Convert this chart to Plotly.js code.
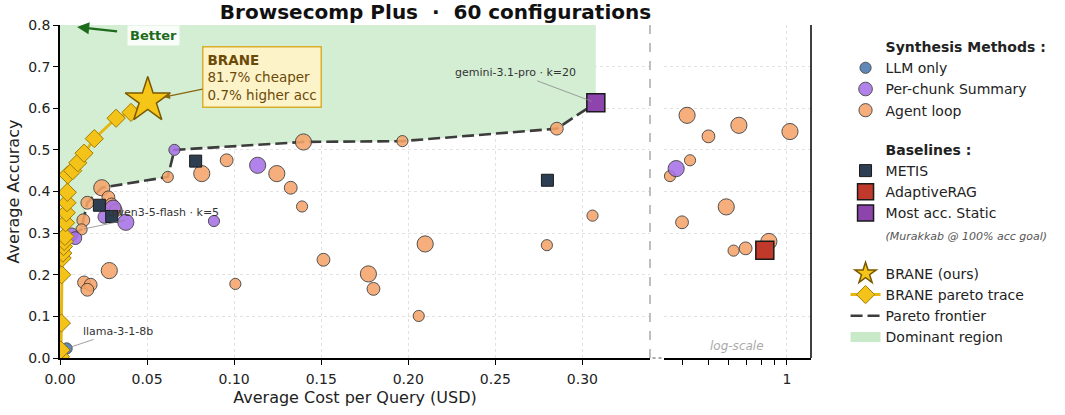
<!DOCTYPE html>
<html><head><meta charset="utf-8">
<script src="https://cdn.plot.ly/plotly-3.0.1.min.js"></script>
<style>html,body{margin:0;padding:0;background:#fff}#chart{width:1065px;height:415px}</style>
</head><body><div id="chart"></div>
<script>
// ---------------- data ----------------
const llmCost = [0.0038];
const llmAcc  = [0.023];
const llmK    = [5];

const chunkCost = [0.0067, 0.0088, 0.0255, 0.0305, 0.0378, 0.0657, 0.0884, 0.1135, 0.377];
const chunkAcc  = [0.297, 0.288, 0.339, 0.360, 0.326, 0.500, 0.329, 0.463, 0.455];
const chunkK    = [10, 10, 10, 20, 20, 5, 5, 20, 20];

const agentCost = [0.0619, 0.0814, 0.0957, 0.1245, 0.1325, 0.1390, 0.1398, 0.1966, 0.2853, 0.3058,
                   0.2796, 0.2097, 0.1771, 0.1800, 0.2060, 0.1513, 0.1007, 0.0283, 0.0138, 0.0176,
                   0.0157, 0.0134, 0.0124, 0.0157, 0.0240, 0.0278, 0.0297, 0.0320,
                   0.415, 0.655, 1.027, 0.501, 0.426, 0.357, 0.586, 0.397, 0.625, 0.695, 0.853];
const agentAcc  = [0.435, 0.443, 0.475, 0.443, 0.409, 0.364, 0.519, 0.521, 0.551, 0.342,
                   0.271, 0.274, 0.202, 0.166, 0.101, 0.236, 0.178, 0.210, 0.1815, 0.176,
                   0.164, 0.331, 0.309, 0.373, 0.409, 0.386, 0.369, 0.355,
                   0.583, 0.559, 0.544, 0.5325, 0.475, 0.437, 0.363, 0.326, 0.258, 0.2634, 0.280];
const agentK    = [5, 20, 10, 20, 10, 5, 20, 5, 10, 5,
                   5, 20, 20, 10, 5, 10, 5, 20, 10, 10,
                   10, 10, 5, 10, 20, 10, 10, 10,
                   20, 20, 20, 10, 5, 5, 20, 10, 5, 10, 20];

const metisCost = [0.0226, 0.0297, 0.0779, 0.2799];
const metisAcc  = [0.367, 0.340, 0.473, 0.427];
const adaptiveCost = [0.823];
const adaptiveAcc  = [0.2586];
const staticCost = [0.3077];
const staticAcc  = [0.613];

const braneTraceCost = [0.0003, 0.0005, 0.0008, 0.0010, 0.0012, 0.0016, 0.0020, 0.0024, 0.0028, 0.0032,
                        0.0036, 0.0040, 0.0042, 0.0045, 0.0073, 0.0102, 0.0138, 0.0197, 0.0322, 0.0408, 0.0504];
const braneTraceAcc  = [0.003, 0.019, 0.084, 0.200, 0.240, 0.252, 0.268, 0.280, 0.292, 0.325,
                        0.349, 0.373, 0.398, 0.440, 0.450, 0.469, 0.492, 0.527, 0.576, 0.590, 0.619];
const braneCost = [0.0504];
const braneAcc  = [0.619];

const frontierCost = [0.0067, 0.0124, 0.0134, 0.0157, 0.0240, 0.0619, 0.0657, 0.1398, 0.1966, 0.2853, 0.3077];
const frontierAcc  = [0.297, 0.309, 0.331, 0.373, 0.409, 0.435, 0.500, 0.519, 0.521, 0.551, 0.613];

const xTickVals = [0, 0.05, 0.10, 0.15, 0.20, 0.25, 0.30];
const yTickVals = [0, 0.1, 0.2, 0.3, 0.4, 0.5, 0.6, 0.7, 0.8];
const logMinorTicks = [0.4, 0.5, 0.6, 0.7, 0.8, 0.9];
const logMajorTicks = [1];
const logMajorText = ['1'];

// ---------------- settings ----------------
const LIN_MAX = 0.3388, LOG_MAX = 1.236, Y_TOP = 0.8;
const FONT = 'DejaVu Sans, Verdana, sans-serif';
const C_LLM = '#4a78b0', C_CHUNK = '#a771e6', C_AGENT = '#f5a56a';
const C_METIS = '#2e3e52', C_ADAPT = '#c0392b', C_STATIC = '#8e44ad';
const C_DOM = '#d4eed4';
const EDGE = '#3a3a3a';
const sizeOf = k => 9.5 + k / 3;

function split(cost, acc, k) {
  const lin = {x: [], y: [], s: []}, log = {x: [], y: [], s: []};
  cost.forEach((c, i) => {
    const t = c <= LIN_MAX ? lin : log;
    t.x.push(c); t.y.push(acc[i]); t.s.push(sizeOf(k[i]));
  });
  return [lin, log];
}

const traces = [];
// legend-only helpers (no data drawn)
function header(name, group, rank) {
  return {x: [null], y: [null], type: 'scatter', mode: 'markers', name: name,
    legendgroup: group, legendrank: rank, hoverinfo: 'skip',
    marker: {color: 'rgba(0,0,0,0)', size: 1, line: {width: 0}}};
}
traces.push(header('<b>Synthesis Methods :</b>', 'syn', 1));
traces.push(header('<b>Baselines :</b>', 'base', 5));

// dominant region
const domX = [0].concat(frontierCost, [frontierCost[frontierCost.length - 1], 0]);
const domY = [frontierAcc[0]].concat(frontierAcc, [Y_TOP, Y_TOP]);
traces.push({x: domX, y: domY, type: 'scatter', mode: 'none', fill: 'toself',
  fillcolor: C_DOM, name: 'Dominant region', showlegend: false, hoverinfo: 'skip'});
traces.push({x: [null], y: [null], type: 'scatter', mode: 'lines', name: 'Dominant region',
  legendgroup: 'brane', legendrank: 13, line: {color: '#c8eac8', width: 10}, hoverinfo: 'skip'});

// pareto frontier
traces.push({x: frontierCost, y: frontierAcc, type: 'scatter', mode: 'lines', name: 'Pareto frontier',
  line: {color: '#3c3c3c', width: 2.6, dash: '12px,5px'}, legendgroup: 'brane', legendrank: 12});

function circles(cost, acc, k, color, name, group, rank) {
  const [lin, log] = split(cost, acc, k);
  const base = {type: 'scatter', mode: 'markers', name: name, legendgroup: group, legendrank: rank};
  traces.push(Object.assign({}, base, {x: lin.x, y: lin.y, xaxis: 'x', yaxis: 'y',
    marker: {color: color, opacity: 0.88, size: lin.s, line: {color: EDGE, width: 1}}}));
  if (log.x.length) traces.push(Object.assign({}, base, {x: log.x, y: log.y, xaxis: 'x2', yaxis: 'y', showlegend: false,
    marker: {color: color, opacity: 0.88, size: log.s, line: {color: EDGE, width: 1}}}));
}
circles(llmCost, llmAcc, llmK, C_LLM, 'LLM only', 'syn', 2);
circles(agentCost, agentAcc, agentK, C_AGENT, 'Agent loop', 'syn', 4);
circles(chunkCost, chunkAcc, chunkK, C_CHUNK, 'Per-chunk Summary', 'syn', 3);

// baselines
traces.push({x: metisCost, y: metisAcc, type: 'scatter', mode: 'markers', name: 'METIS', legendgroup: 'base', legendrank: 6,
  marker: {symbol: 'square', color: C_METIS, size: 12, line: {color: '#1a1a1a', width: 1}}});
traces.push({x: adaptiveCost, y: adaptiveAcc, xaxis: 'x2', type: 'scatter', mode: 'markers', name: 'AdaptiveRAG', legendgroup: 'base', legendrank: 7,
  marker: {symbol: 'square', color: C_ADAPT, size: 18, line: {color: '#1a1a1a', width: 1.5}}});
traces.push({x: staticCost, y: staticAcc, type: 'scatter', mode: 'markers', name: 'Most acc. Static', legendgroup: 'base', legendrank: 8,
  marker: {symbol: 'square', color: C_STATIC, size: 18, line: {color: '#1a1a1a', width: 1.5}}});
traces.push(header('<span style="font-size:11px;color:#555"><i>(Murakkab @ 100% acc goal)</i></span>', 'base', 9));

// BRANE
traces.push({x: braneTraceCost, y: braneTraceAcc, type: 'scatter', mode: 'lines+markers', name: 'BRANE pareto trace',
  legendgroup: 'brane', legendrank: 11,
  line: {color: '#e5b710', width: 3},
  marker: {symbol: 'diamond', size: 14, color: '#f3c31a', line: {color: '#a27a00', width: 1}}});
traces.push({x: braneCost, y: braneAcc, type: 'scatter', mode: 'markers', name: 'BRANE (ours)',
  legendgroup: 'brane', legendrank: 10,
  marker: {symbol: 'star', size: 34, color: '#f5c518', line: {color: '#7a5800', width: 1.5}}});

const axFont = {family: FONT, size: 14, color: '#222'};
const GRID = '#e2e2e2';
const layout = {
  width: 1065, height: 415,
  margin: {l: 60, r: 254, t: 25, b: 57},
  paper_bgcolor: '#fff', plot_bgcolor: '#fff',
  font: {family: FONT, color: '#222'},
  showlegend: true,
  title: {text: '<b>Browsecomp Plus\u00a0\u00a0·\u00a0\u00a060 configurations</b>', font: {family: FONT, size: 20, color: '#111'},
    xref: 'paper', x: 0.5, xanchor: 'center', yref: 'container', y: 0.970, yanchor: 'middle'},
  xaxis: {domain: [0, 0.7856], range: [0, LIN_MAX], tickvals: xTickVals, tickformat: '.2f',
    ticks: 'outside', ticklen: 5, tickwidth: 1.2, tickcolor: '#000', showline: true, linecolor: '#000', linewidth: 1.5,
    ticklabelstandoff: 2,
    showgrid: true, gridcolor: GRID, griddash: 'dot', gridwidth: 1, zeroline: false, tickfont: axFont,
    title: {text: 'Average Cost per Query (USD)', font: {family: FONT, size: 16, color: '#222'}, standoff: 6}},
  xaxis2: {domain: [0.8043, 1], type: 'log', range: [Math.log10(LIN_MAX), Math.log10(LOG_MAX)], anchor: 'y',
    tickvals: logMajorTicks, ticktext: logMajorText, ticks: 'outside', ticklen: 5, tickwidth: 1.2, tickcolor: '#000',
    ticklabelstandoff: 2,
    minor: {tickvals: logMinorTicks, ticks: 'outside', ticklen: 5, tickwidth: 1.2, tickcolor: '#000', showgrid: false},
    showline: true, linecolor: '#000', linewidth: 1.5, showgrid: true, gridcolor: GRID, griddash: 'dot', gridwidth: 1,
    zeroline: false, tickfont: axFont},
  yaxis: {range: [0, Y_TOP], tickvals: yTickVals, tickformat: '.1f', ticks: 'outside', ticklen: 5, tickwidth: 1.2, tickcolor: '#000',
    showline: true, linecolor: '#000', linewidth: 1.5, showgrid: true, gridcolor: GRID, griddash: 'dot', gridwidth: 1,
    zeroline: false, tickfont: axFont,
    title: {text: 'Average Accuracy', font: {family: FONT, size: 16, color: '#222'}, standoff: 5}},
  legend: {x: 1.046, xanchor: 'left', y: 0.982, yanchor: 'top', font: {family: FONT, size: 14, color: '#222'},
    traceorder: 'grouped', tracegroupgap: 18, bgcolor: 'rgba(0,0,0,0)', itemclick: false, itemdoubleclick: false},
  shapes: [
    {type: 'line', xref: 'x domain', x0: 1, x1: 1, yref: 'y domain', y0: 0, y1: 1, line: {color: '#aaaaaa', width: 1.5, dash: 'dash'}},
    {type: 'line', xref: 'x2 domain', x0: 1, x1: 1, yref: 'y domain', y0: 0, y1: 1, line: {color: '#000', width: 1.5}},
    {type: 'line', xref: 'paper', x0: 0.789, x1: 0.803, yref: 'paper', y0: 0, y1: 0, line: {color: '#aaaaaa', width: 2, dash: 'dot'}}
  ],
  annotations: [
    {x: braneCost[0], y: braneAcc[0], xref: 'x', yref: 'y', ax: 114, ay: -23.5,
      text: '<b>BRANE</b><br>81.7% cheaper<br>0.7% higher acc', align: 'left', showarrow: true,
      arrowhead: 2, arrowsize: 1, arrowwidth: 1.3, arrowcolor: '#8a6510', standoff: 16,
      bgcolor: '#fdf3c8', bordercolor: '#d9ae2c', borderwidth: 1.5, borderpad: 4,
      font: {family: FONT, size: 13.5, color: '#6b4a08'}},
    {x: 0.0098, y: 0.795, xref: 'x', yref: 'y', ax: 76, ay: 8, text: '<b>Better</b>', showarrow: true,
      arrowhead: 2, arrowsize: 1.1, arrowwidth: 2.2, arrowcolor: '#1b6b1b', startstandoff: 10,
      bgcolor: 'rgba(255,255,255,0.85)', borderpad: 2, font: {family: FONT, size: 13, color: '#1b6b1b'}},
    {x: staticCost[0], y: staticAcc[0], xref: 'x', yref: 'y', ax: -80, ay: -30, text: 'gemini-3.1-pro · k=20',
      showarrow: true, arrowhead: 0, arrowwidth: 0.8, arrowcolor: '#888', standoff: 4,
      font: {family: FONT, size: 11, color: '#333'}},
    {x: 0.0124, y: 0.309, xref: 'x', yref: 'y', ax: 82, ay: -17, text: 'qwen3-5-flash · k=5',
      showarrow: true, arrowhead: 0, arrowwidth: 0.8, arrowcolor: '#888', standoff: 2,
      font: {family: FONT, size: 11, color: '#333'}},
    {x: llmCost[0], y: llmAcc[0], xref: 'x', yref: 'y', ax: 51, ay: -17, text: 'llama-3-1-8b',
      showarrow: true, arrowhead: 0, arrowwidth: 0.8, arrowcolor: '#888', standoff: 4,
      font: {family: FONT, size: 11, color: '#333'}},
    {x: -0.19, y: 0.028, xref: 'x2', yref: 'y', text: '<i>log-scale</i>', showarrow: false,
      font: {family: FONT, size: 12, color: '#aaaaaa'}}
  ]
};

Plotly.newPlot('chart', traces, layout, {displayModeBar: false});
</script>
</body></html>
